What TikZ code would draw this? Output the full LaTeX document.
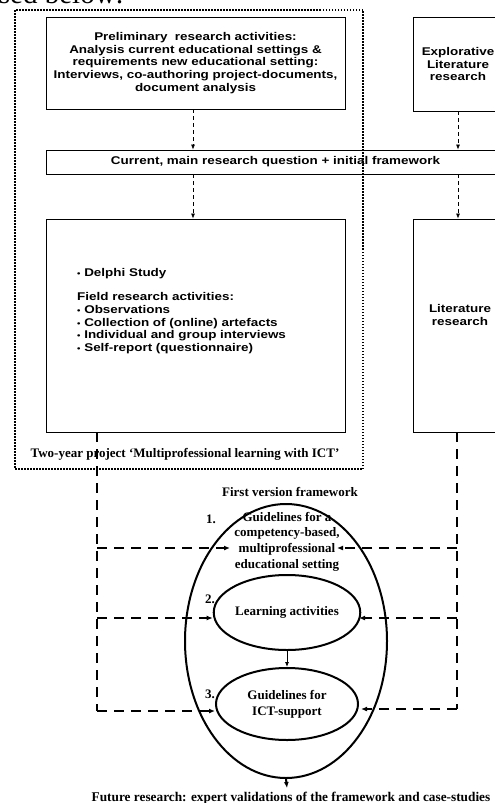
\documentclass[tikz,border=0pt]{standalone}
\usepackage{fontspec}
\setmainfont{Liberation Serif}
\setsansfont{Liberation Sans}
\newfontfamily\widesans[FakeStretch=1.2]{Liberation Sans}
\usetikzlibrary{positioning,shapes.geometric,arrows.meta,calc}

\newcommand{\bul}{{\fontsize{8}{8}\selectfont\textbullet}\ }

\tikzset{
  box/.style={draw, line width=0.8pt, inner sep=0pt, align=center,
    font=\widesans\bfseries\fontsize{11.2}{12.7}\selectfont},
  boxtext/.style={inner sep=0pt, font=\widesans\bfseries\fontsize{11.2}{12.9}\selectfont},
  thin arrow/.style={-{Latex[length=5pt,width=4pt]}, line width=0.7pt, dash pattern=on 4pt off 3pt},
  fb line/.style={line width=2.2pt, dash pattern=on 10pt off 7pt},
  fb arrow/.style={fb line, -{Latex[length=6pt,width=5pt]}},
  oval/.style={draw, ellipse, line width=2pt, inner sep=0pt},
  lbl/.style={inner sep=0pt, align=center, font=\bfseries\fontsize{13}{15.7}\selectfont},
}

\begin{document}
\begin{tikzpicture}[x=1pt,y=-1pt]
  \useasboundingbox (0,0) rectangle (495,803);
  \clip (0,0) rectangle (495,803);
  % text of the page above
  \node[anchor=base east, inner sep=0pt, font=\fontsize{29}{29}\selectfont] (page) at (124,4) {used below:};

  % project frame
  \draw[line width=2pt, dash pattern=on 1.5pt off 1.5pt] (15,10) rectangle (363,469);
  \node[lbl, anchor=base] (project) at (185,457) {Two-year project ‘Multiprofessional learning with ICT’};

  % boxes
  \node[box, minimum width=299, minimum height=92] (prelim) at (195.5,63)
    {Preliminary\ \ research activities:\\Analysis current educational settings \&\\requirements new educational setting:\\Interviews, co-authoring project-documents,\\document analysis};
  \node[box, minimum width=90, minimum height=94] (expl) at (458,64)
    {Explorative\\Literature\\research};
  \node[box, minimum width=459, minimum height=24] (main) at (275.5,162)
    {Current, main research question + initial framework};
  \node[box, minimum width=299, minimum height=213] (field) at (195.5,325.5) {};
  \node[boxtext, anchor=north west, align=left] (fieldtext) at (77,268)
    {\bul Delphi Study\\[11pt]
     Field research activities:\\
     \bul Observations\\
     \bul Collection of (online) artefacts\\
     \bul Individual and group interviews\\
     \bul Self-report (questionnaire)};
  \node[box, minimum width=90, minimum height=213] (lit) at (458,325.5) {};
  \node[boxtext, align=center] (littext) at (460,315) {Literature\\research};

  \draw[thin arrow] (prelim.south -| 193,0) -- (main.north -| 193,0);
  \draw[thin arrow] (expl.south) -- (expl.south |- main.north);
  \draw[thin arrow] (main.south -| 193,0) -- (field.north -| 193,0);
  \draw[thin arrow] (expl.south |- main.south) -- (lit.north);

  % framework
  \node[lbl] (first) at (290,492) {First version framework};
  \node[oval, minimum width=202, minimum height=274] (frame) at (286,641) {};
  \node[lbl] (guide) at (287,541.5) {Guidelines for a\\competency-based,\\multiprofessional\\educational setting};
  \node[oval, minimum width=142, minimum height=75, lbl] (learn) at (287,612.5) {Learning activities};
  \node[oval, minimum width=142, minimum height=72, lbl] (ict) at (287,704) {Guidelines for\\ICT-support};
  \node[lbl] (n1) at (211,519) {1.};
  \node[lbl] (n2) at (210,599) {2.};
  \node[lbl] (n3) at (210,694) {3.};
  \draw[-{Latex[length=5pt,width=4pt]}, line width=0.8pt] (learn.south) -- (ict.north);

  % feedback lines
  \coordinate (lt) at (97,432);
  \coordinate (lb) at (97,711);
  \coordinate (rt) at (457,432);
  \coordinate (rb) at (457,709);
  \coordinate (g1) at (230,548);
  \coordinate (g2) at (337,548);
  \draw[fb line] (lt) -- (lb);
  \draw[fb arrow] (97,548) -- (g1);
  \draw[fb arrow] (97,618) -- (learn.west |- 0,618);
  \draw[fb arrow] (lb) -- (lb -| ict.west);
  \draw[fb line] (rt) -- (rb);
  \draw[fb arrow] (457,548) -- (g2);
  \draw[fb arrow] (457,618) -- (359,618);
  \draw[fb arrow] (rb) -- (361,709);

  % outcome
  \node[lbl, anchor=base, font=\bfseries\fontsize{13.3}{15}\selectfont] (future) at (291,801) {Future research: expert validations of the framework and case-studies};
  \draw[-{Latex[length=6pt,width=5pt]}, line width=2pt] (frame.south) -- (287,788);
\end{tikzpicture}
\end{document}
